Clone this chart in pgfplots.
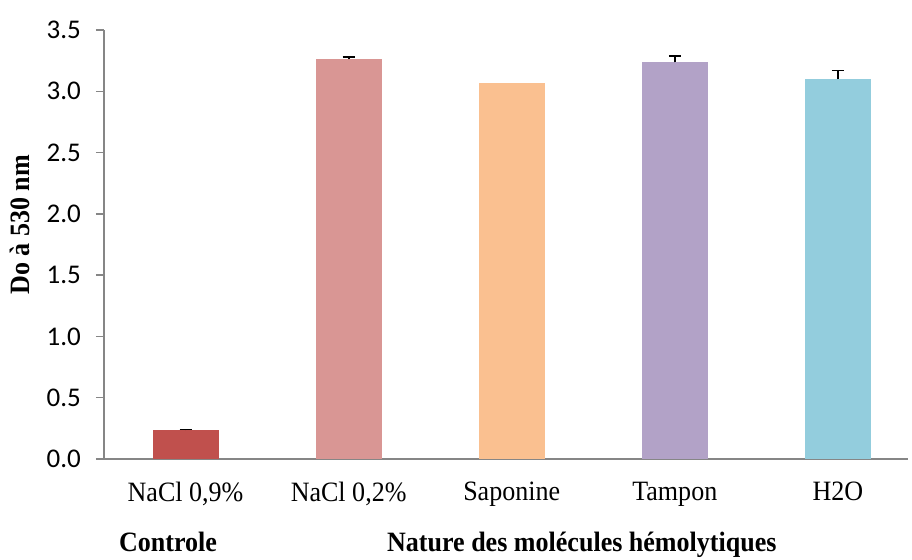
\documentclass[border=0pt]{standalone}
\usepackage{pgfplots}
\pgfplotsset{compat=1.18}
\usepackage{fontspec}
\setmainfont[FakeStretch=0.93]{Liberation Serif}
\newfontfamily\calibri{Carlito}

\definecolor{axisgray}{RGB}{134,134,134}
\definecolor{cRed}{RGB}{192,80,77}
\definecolor{cPink}{RGB}{217,150,148}
\definecolor{cOrange}{RGB}{250,192,144}
\definecolor{cPurple}{RGB}{178,162,199}
\definecolor{cBlue}{RGB}{147,205,221}

\begin{document}
\begin{tikzpicture}
% fixed page frame around the axis box
\path[use as bounding box] (-52pt,-50.5pt) rectangle (404pt,229.5pt);
\begin{axis}[
  at={(0,0)}, anchor=south west,
  scale only axis,
  width=402pt, height=214.5pt,
  xmin=-0.5, xmax=4.43,
  ymin=0, ymax=3.5,
  axis lines*=left,
  axis line style={axisgray, line width=0.75pt},
  every tick/.style={axisgray, line width=0.75pt},
  ytick={0,0.5,...,3.5},
  yticklabel style={font=\fontsize{13.5}{15}\selectfont\calibri, xshift=-4pt,
    /pgf/number format/.cd, fixed, fixed zerofill, precision=1,
    /pgf/number format/assume math mode=true},
  tick align=outside,
  major tick length=4pt,
  xtick={0,1,2,3,4},
  xticklabels={{NaCl 0,9\%}, {NaCl 0,2\%}, Saponine, Tampon, H2O},
  xticklabel style={font=\fontsize{14}{16}\selectfont, yshift=-4pt},
  x tick style={draw=none},
  extra x ticks={-0.5,0.5,1.5,2.5,3.5},
  extra x tick labels={},
  extra x tick style={tick style={axisgray, line width=0.75pt}, major tick length=5pt},
  ybar, bar width=33pt,
  every axis plot/.append style={bar shift=0pt, draw=none},
  err/.style={error bars/y dir=plus, error bars/y explicit,
    error bars/error bar style={black, line width=0.9pt},
    error bars/error mark options={black, line width=0.9pt, mark size=3pt, rotate=90}},
  clip=false,
]
% bars, with upper error bars where measured
\addplot[fill=cRed, err] coordinates {(0,0.236) +- (0,0.005)};
\addplot[fill=cPink, err] coordinates {(1,3.263) +- (0,0.018)};
\addplot[fill=cOrange] coordinates {(2,3.070)};
\addplot[fill=cPurple, err] coordinates {(3,3.235) +- (0,0.055)};
\addplot[fill=cBlue, err] coordinates {(4,3.100) +- (0,0.070)};
% group captions on a common baseline
\node[anchor=base, font=\bfseries\fontsize{14}{16}\selectfont] at (axis cs:-0.107,0) [yshift=-46.5pt] {Controle};
\node[anchor=base, font=\bfseries\fontsize{14}{16}\selectfont] at (axis cs:2.43,0) [yshift=-46.5pt] {Nature des molécules hémolytiques};
\end{axis}
\node[rotate=90, font=\bfseries\fontsize{14}{16}\selectfont] at (-42pt,117pt) {Do à 530 nm};
\end{tikzpicture}
\end{document}
